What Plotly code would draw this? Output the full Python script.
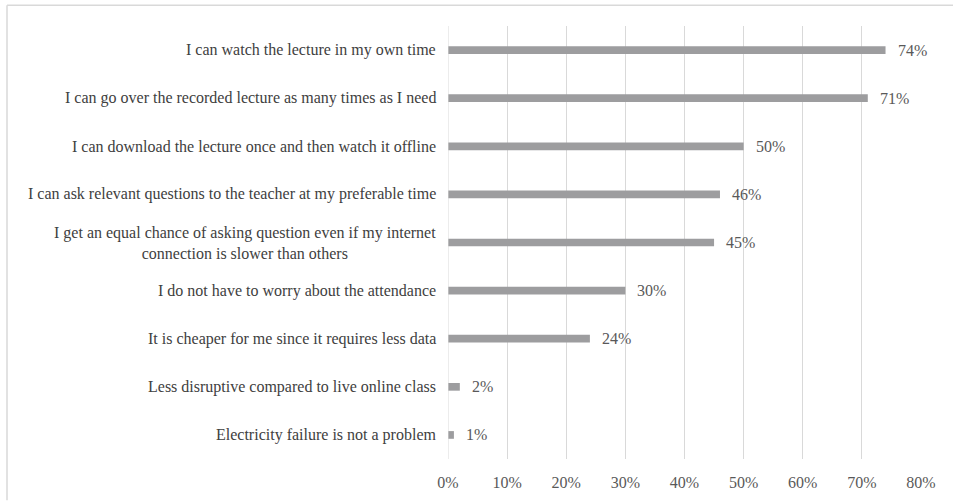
import plotly.graph_objects as go

categories = [
    "I can watch the lecture in my own time",
    "I can go over the recorded lecture as many times as I need",
    "I can download the lecture once and then watch it offline",
    "I can ask relevant questions to the teacher at my preferable time",
    "I get an equal chance of asking question even if my internet<br>connection is slower than others",
    "I do not have to worry about the attendance",
    "It is cheaper for me since it requires less data",
    "Less disruptive compared to live online class",
    "Electricity failure is not a problem",
]
values = [0.74, 0.71, 0.50, 0.46, 0.45, 0.30, 0.24, 0.02, 0.01]
tick_vals = [0, 0.1, 0.2, 0.3, 0.4, 0.5, 0.6, 0.7, 0.8]
tick_text = ["0%", "10%", "20%", "30%", "40%", "50%", "60%", "70%", "80%"]

W, H = 953, 503
L, R, T, B = 448, 32, 26, 37
FONT = "Liberation Serif"
FS = 16

fig = go.Figure()
fig.add_trace(go.Bar(
    x=values, y=categories, orientation="h",
    marker=dict(color="#9d9d9f", line=dict(width=0)),
    width=0.16, hoverinfo="skip",
))

annotations = []
for c, v in zip(categories, values):
    annotations.append(dict(
        x=v, y=c, xref="x", yref="y", text=f"{round(v*100)}%",
        showarrow=False, xanchor="left", xshift=10,
        font=dict(family=FONT, size=FS, color="#595959"),
    ))
    annotations.append(dict(
        x=0, y=c, xref="x", yref="y", text=c, align="center",
        showarrow=False, xanchor="right", xshift=-10,
        font=dict(family=FONT, size=FS, color="#404040"),
    ))

pw = W - L - R
ph = H - T - B
shapes = [
    dict(type="line", xref="paper", yref="paper",
         x0=(7 - L) / pw, x1=(W + 5 - L) / pw,
         y0=1 + (T - 5) / ph, y1=1 + (T - 5) / ph,
         line=dict(color="#d9d9d9", width=1.5)),
    dict(type="line", xref="paper", yref="paper",
         x0=(7 - L) / pw, x1=(7 - L) / pw,
         y0=1 + (T - 5) / ph, y1=-(H + 5 - (H - B)) / ph,
         line=dict(color="#d9d9d9", width=1.5)),
]

fig.update_layout(
    width=W, height=H,
    margin=dict(l=L, r=R, t=T, b=B, pad=0),
    paper_bgcolor="white", plot_bgcolor="white",
    showlegend=False,
    annotations=annotations,
    shapes=shapes,
    xaxis=dict(
        range=[0, 0.8], tickvals=tick_vals, ticktext=tick_text,
        showgrid=True, gridcolor="#d9d9d9", gridwidth=1,
        zeroline=False, showline=False, ticks="",
        tickfont=dict(family=FONT, size=FS, color="#595959"),
        fixedrange=True, ticklabelstandoff=12,
    ),
    yaxis=dict(
        categoryorder="array", categoryarray=categories[::-1],
        range=[-0.5, len(categories) - 0.5],
        showticklabels=False, showgrid=False, zeroline=False,
        showline=False, ticks="", fixedrange=True,
    ),
)
fig.add_vline(x=0, line=dict(color="#d9d9d9", width=1))

fig.write_html(
    "out.html",
    config={"displayModeBar": False},
    post_script="document.body.style.margin='0';document.body.style.overflow='hidden';",
)
